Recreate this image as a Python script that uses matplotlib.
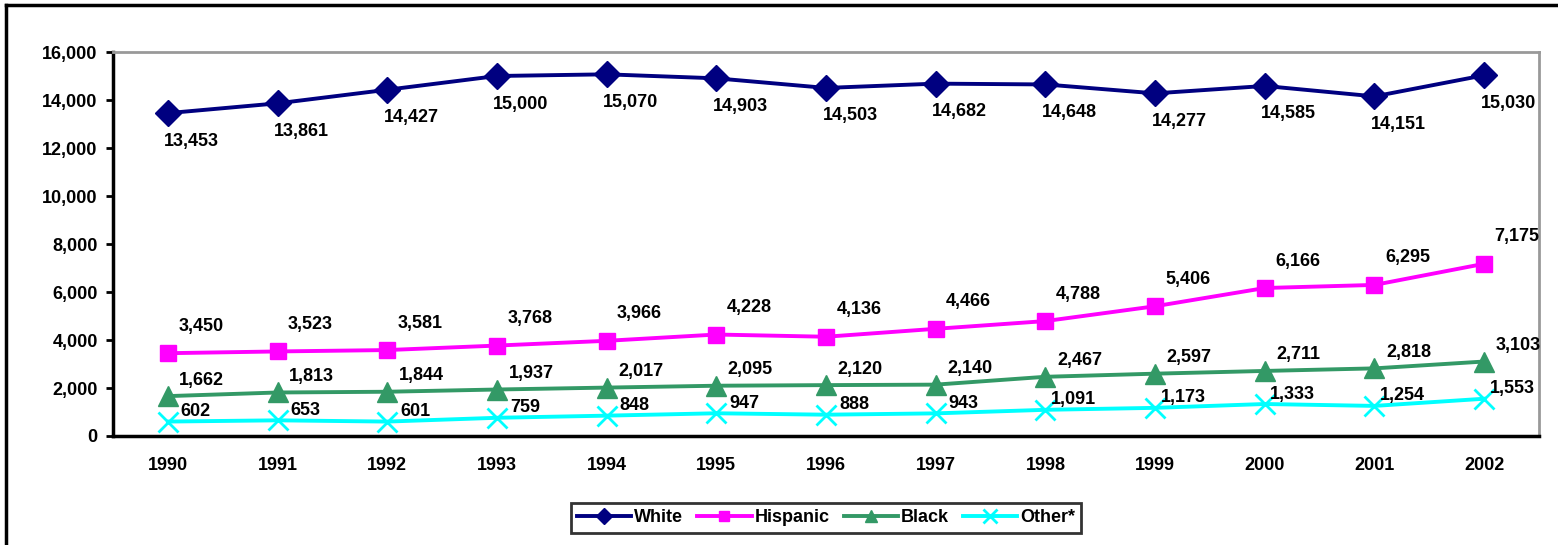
import matplotlib
matplotlib.use("Agg")
import matplotlib.pyplot as plt
from matplotlib.lines import Line2D

plt.rcParams['font.family'] = ['Liberation Sans', 'DejaVu Sans']
plt.rcParams['font.weight'] = 'bold'

years = ['1990', '1991', '1992', '1993', '1994', '1995', '1996',
         '1997', '1998', '1999', '2000', '2001', '2002']
white = [13453, 13861, 14427, 15000, 15070, 14903, 14503,
         14682, 14648, 14277, 14585, 14151, 15030]
hispanic = [3450, 3523, 3581, 3768, 3966, 4228, 4136,
            4466, 4788, 5406, 6166, 6295, 7175]
black = [1662, 1813, 1844, 1937, 2017, 2095, 2120,
         2140, 2467, 2597, 2711, 2818, 3103]
other = [602, 653, 601, 759, 848, 947, 888,
         943, 1091, 1173, 1333, 1254, 1553]

fig = plt.figure(figsize=(15.58, 5.45), dpi=100)
ax = fig.add_axes([113 / 1558, 109 / 545, 1426 / 1558, 384 / 545])

x = list(range(len(years)))
series = [
    ('White', white, '#000080', 'D', 13, (24, -28)),
    ('Hispanic', hispanic, '#FF00FF', 's', 12, (33, 27)),
    ('Black', black, '#339966', '^', 14, (34, 16)),
    ('Other*', other, '#00FFFF', 'x', 15, (28, 10)),
]

FS = 13

for name, vals, color, mk, ms, off in series:
    kw = dict(markeredgewidth=2) if mk == 'x' else dict(markeredgecolor=color)
    ax.plot(x, vals, color=color, lw=2.8, marker=mk, markersize=ms,
            markerfacecolor=color, label=name, **kw)
    for xi, v in zip(x, vals):
        ax.annotate(f'{v:,}', (xi, v), xytext=off, textcoords='offset pixels',
                    ha='center', va='center', fontsize=FS, fontweight='bold')

ax.set_xlim(-0.5, len(years) - 0.5)
ax.set_ylim(0, 16000)
ax.set_yticks(range(0, 16001, 2000))
ax.set_yticklabels([f'{t:,}' for t in range(0, 16001, 2000)])
ax.set_xticks(x)
ax.set_xticklabels(years)
ax.tick_params(axis='x', length=0, pad=15, labelsize=FS)
ax.tick_params(axis='y', length=5, width=2, pad=6, labelsize=FS)

for s in ['top', 'right']:
    ax.spines[s].set_color('#999999')
    ax.spines[s].set_linewidth(2)
for s in ['left', 'bottom']:
    ax.spines[s].set_color('black')
    ax.spines[s].set_linewidth(2.5)

leg = fig.legend(loc='center', bbox_to_anchor=(826 / 1558, 27 / 545), ncol=4,
                 frameon=True, fancybox=False, edgecolor='black',
                 handlelength=3.0, handletextpad=0.15, columnspacing=0.8,
                 borderpad=0.35, markerscale=0.65,
                 prop={'weight': 'bold', 'size': FS})
leg.get_frame().set_linewidth(2)

# outer chart frame
fig.add_artist(Line2D([6 / 1558, 6 / 1558], [0, 1 - 5 / 545], color='black', lw=2.5))
fig.add_artist(Line2D([6 / 1558, 1], [1 - 5 / 545, 1 - 5 / 545], color='black', lw=2.5))

fig.savefig('out.png', dpi=100)
